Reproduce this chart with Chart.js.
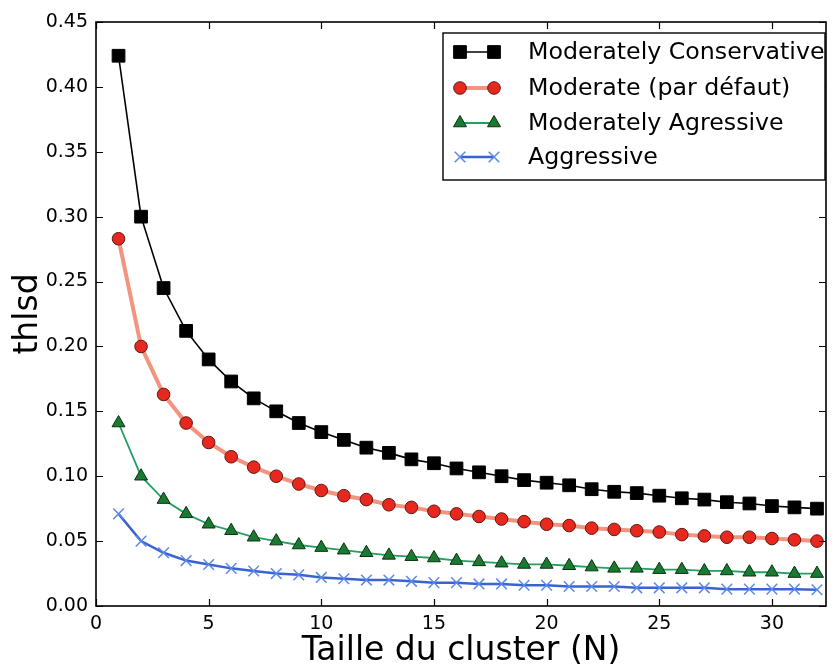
<!DOCTYPE html>
<html>
<head>
<meta charset="utf-8">
<script src="https://cdn.jsdelivr.net/npm/chart.js@4.4.1/dist/chart.umd.min.js"></script>
<style>
  html, body { margin: 0; padding: 0; background: #ffffff; }
  canvas { display: block; }
</style>
</head>
<body>
<canvas id="chart" width="836" height="666"></canvas>
<script>
// Cluster sizes N = 1 .. 32
const clusterSizes = [1, 2, 3, 4, 5, 6, 7, 8, 9, 10, 11, 12, 13, 14, 15, 16,
                      17, 18, 19, 20, 21, 22, 23, 24, 25, 26, 27, 28, 29, 30, 31, 32];

// thlsd threshold per profile
const moderatelyConservative = [0.424, 0.300, 0.245, 0.212, 0.190, 0.173, 0.160, 0.150,
                                0.141, 0.134, 0.128, 0.122, 0.118, 0.113, 0.110, 0.106,
                                0.103, 0.100, 0.097, 0.095, 0.093, 0.090, 0.088, 0.087,
                                0.085, 0.083, 0.082, 0.080, 0.079, 0.077, 0.076, 0.075];
const moderateDefault = [0.283, 0.200, 0.163, 0.141, 0.126, 0.115, 0.107, 0.100,
                         0.094, 0.089, 0.085, 0.082, 0.078, 0.076, 0.073, 0.071,
                         0.069, 0.067, 0.065, 0.063, 0.062, 0.060, 0.059, 0.058,
                         0.057, 0.055, 0.054, 0.053, 0.053, 0.052, 0.051, 0.050];
const moderatelyAggressive = [0.141, 0.100, 0.082, 0.071, 0.063, 0.058, 0.053, 0.050,
                              0.047, 0.045, 0.043, 0.041, 0.039, 0.038, 0.037, 0.035,
                              0.034, 0.033, 0.032, 0.032, 0.031, 0.030, 0.029, 0.029,
                              0.028, 0.028, 0.027, 0.027, 0.026, 0.026, 0.025, 0.025];
const aggressive = [0.071, 0.050, 0.041, 0.035, 0.032, 0.029, 0.027, 0.025,
                    0.024, 0.022, 0.021, 0.020, 0.020, 0.019, 0.018, 0.018,
                    0.017, 0.017, 0.016, 0.016, 0.015, 0.015, 0.015, 0.014,
                    0.014, 0.014, 0.014, 0.013, 0.013, 0.013, 0.013, 0.0125];

const seriesLabels = ['Moderately Conservative', 'Moderate (par défaut)',
                      'Moderately Agressive', 'Aggressive'];
const xTickValues = [0, 5, 10, 15, 20, 25, 30];
const yTickValues = [0.00, 0.05, 0.10, 0.15, 0.20, 0.25, 0.30, 0.35, 0.40, 0.45];

const FONT = "'DejaVu Sans', 'Liberation Sans', sans-serif";

function points(values) {
  return clusterSizes.map((n, i) => ({ x: n, y: values[i] }));
}

// Inward tick marks on all four sides plus the black frame
const frameTicks = {
  id: 'frameTicks',
  afterDatasetsDraw(chart) {
    const { ctx, chartArea: a, scales } = chart;
    const len = 7;
    ctx.save();
    ctx.strokeStyle = '#000';
    ctx.lineWidth = 1.2;
    ctx.beginPath();
    xTickValues.forEach(v => {
      const px = Math.round(scales.x.getPixelForValue(v)) + 0.5;
      ctx.moveTo(px, a.bottom); ctx.lineTo(px, a.bottom - len);
      ctx.moveTo(px, a.top); ctx.lineTo(px, a.top + len);
    });
    yTickValues.forEach(v => {
      const py = Math.round(scales.y.getPixelForValue(v)) + 0.5;
      ctx.moveTo(a.left, py); ctx.lineTo(a.left + len, py);
      ctx.moveTo(a.right, py); ctx.lineTo(a.right - len, py);
    });
    ctx.stroke();
    ctx.lineWidth = 1.6;
    ctx.strokeRect(a.left, a.top, a.right - a.left, a.bottom - a.top);
    ctx.restore();
  }
};

// Framed legend in the upper right of the plot area
const boxedLegend = {
  id: 'boxedLegend',
  afterDraw(chart) {
    const { ctx, chartArea: a } = chart;
    const boxLeft = 443, boxTop = 33, boxRight = a.right - 1, boxBottom = 180;
    const rowY = [52, 88, 123, 157];
    ctx.save();
    ctx.fillStyle = '#fff';
    ctx.fillRect(boxLeft, boxTop, boxRight - boxLeft, boxBottom - boxTop);
    ctx.strokeStyle = '#000';
    ctx.lineWidth = 1.4;
    ctx.strokeRect(boxLeft, boxTop, boxRight - boxLeft, boxBottom - boxTop);
    chart.data.datasets.forEach((ds, i) => {
      const y = rowY[i];
      ctx.strokeStyle = ds.borderColor;
      ctx.lineWidth = ds.borderWidth;
      ctx.beginPath();
      ctx.moveTo(460, y); ctx.lineTo(494, y);
      ctx.stroke();
      const opts = {
        pointStyle: ds.pointStyle,
        radius: ds.pointRadius,
        borderWidth: ds.pointBorderWidth,
        rotation: 0
      };
      ctx.fillStyle = ds.pointBackgroundColor;
      ctx.strokeStyle = ds.pointBorderColor;
      ctx.lineWidth = ds.pointBorderWidth;
      Chart.helpers.drawPoint(ctx, opts, 460, y);
      Chart.helpers.drawPoint(ctx, opts, 494, y);
      ctx.fillStyle = '#000';
      ctx.font = '23.7px ' + FONT;
      ctx.textBaseline = 'middle';
      ctx.textAlign = 'left';
      ctx.fillText(ds.label, 528, y + 1);
    });
    ctx.restore();
  }
};

new Chart(document.getElementById('chart'), {
  type: 'line',
  data: {
    datasets: [
      {
        label: seriesLabels[0],
        data: points(moderatelyConservative),
        borderColor: '#000000',
        borderWidth: 1.6,
        pointStyle: 'rect',
        pointRadius: 9,
        pointBackgroundColor: '#000000',
        pointBorderColor: '#000000',
        pointBorderWidth: 1
      },
      {
        label: seriesLabels[1],
        data: points(moderateDefault),
        borderColor: '#f4937f',
        borderWidth: 4,
        pointStyle: 'circle',
        pointRadius: 6.3,
        pointBackgroundColor: '#e8281e',
        pointBorderColor: '#5a1a12',
        pointBorderWidth: 1
      },
      {
        label: seriesLabels[2],
        data: points(moderatelyAggressive),
        borderColor: '#22a060',
        borderWidth: 1.8,
        pointStyle: 'triangle',
        pointRadius: 7.5,
        pointBackgroundColor: '#1a7a32',
        pointBorderColor: '#0a300f',
        pointBorderWidth: 1
      },
      {
        label: seriesLabels[3],
        data: points(aggressive),
        borderColor: '#3a62d2',
        borderWidth: 2.5,
        pointStyle: 'crossRot',
        pointRadius: 7.5,
        pointBackgroundColor: '#5b8ae8',
        pointBorderColor: '#5b8ae8',
        pointBorderWidth: 1.5
      }
    ]
  },
  options: {
    responsive: false,
    animation: false,
    events: [],
    layout: { padding: { top: 22, right: 3, left: 0, bottom: 0 } },
    elements: { line: { tension: 0 } },
    plugins: {
      legend: { display: false },
      tooltip: { enabled: false },
      title: { display: false }
    },
    scales: {
      x: {
        type: 'linear',
        min: 0,
        max: 32.4,
        grid: { display: false, drawTicks: false },
        border: { display: false },
        afterBuildTicks(scale) {
          scale.ticks = xTickValues.map(v => ({ value: v }));
        },
        afterFit(scale) { scale.height = 60; },
        ticks: {
          color: '#000',
          font: { family: FONT, size: 19 },
          padding: 7,
          maxRotation: 0,
          callback: v => String(v)
        },
        title: {
          display: true,
          text: 'Taille du cluster (N)',
          color: '#000',
          font: { family: FONT, size: 33, lineHeight: 1 },
          padding: { top: 0, bottom: -2 }
        }
      },
      y: {
        type: 'linear',
        min: 0,
        max: 0.45,
        grid: { display: false, drawTicks: false },
        border: { display: false },
        afterBuildTicks(scale) {
          scale.ticks = yTickValues.map(v => ({ value: v }));
        },
        afterFit(scale) { scale.width = 96; },
        ticks: {
          color: '#000',
          font: { family: FONT, size: 19 },
          padding: 8,
          callback: v => v.toFixed(2)
        },
        title: {
          display: true,
          text: 'thlsd',
          color: '#000',
          font: { family: FONT, size: 33, lineHeight: 1 },
          padding: { top: 12, bottom: 0 }
        }
      }
    }
  },
  plugins: [frameTicks, boxedLegend]
});
</script>
</body>
</html>
